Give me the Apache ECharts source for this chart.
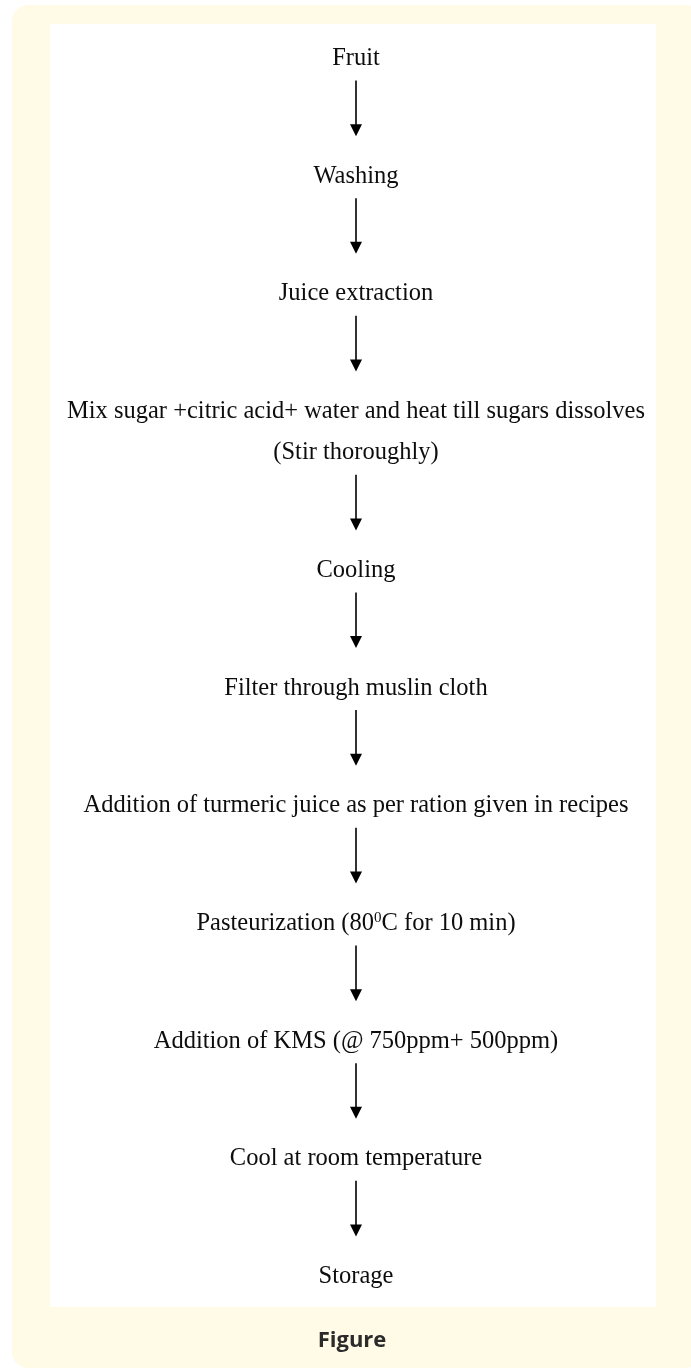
<!DOCTYPE html>
<html>
<head>
<meta charset="utf-8">
<script src="https://cdn.jsdelivr.net/npm/echarts@6/dist/echarts.min.js"></script>
<style>
html,body{margin:0;padding:0;background:#fff;}
#chart{width:691px;height:1370px;}
</style>
</head>
<body>
<div id="chart"></div>
<script>
// Flow steps (top to bottom). "\n" marks a second line within one step.
const steps = [
  'Fruit',
  'Washing',
  'Juice extraction',
  'Mix sugar +citric acid+ water and heat till sugars dissolves\n(Stir thoroughly)',
  'Cooling',
  'Filter through muslin cloth',
  'Addition of turmeric juice as per ration given in recipes',
  'Pasteurization (80{sup|0}C for 10 min)',
  'Addition of KMS (@ 750ppm+ 500ppm)',
  'Cool at room temperature',
  'Storage'
];
const caption = 'Figure';

// layout units: one step = 1 unit, an extra text line inside a step = LINE_UNIT
const LINE_UNIT = 0.35;
const textRows = [];   // [x, y, text]
const stepFirst = [], stepLast = [];
let cursor = 0;
steps.forEach((s, i) => {
  const lines = s.split('\n');
  stepFirst.push(cursor);
  lines.forEach((ln, j) => {
    if (j > 0) cursor += LINE_UNIT;
    textRows.push([0.5, cursor, ln]);
  });
  stepLast.push(cursor);
  cursor += 1;
});
const totalUnits = cursor - 1;
const arrowRows = [];
for (let i = 0; i < steps.length - 1; i++) arrowRows.push([0.5, stepLast[i], stepFirst[i + 1]]);

const chart = echarts.init(document.getElementById('chart'), null, {renderer: 'canvas'});
const FONT = '"Liberation Serif", "Times New Roman", serif';
const INK = '#0d0d0d';

chart.setOption({
  animation: false,
  backgroundColor: '#ffffff',
  graphic: [
    {type: 'rect', z: -10, shape: {x: 12, y: 5, width: 690, height: 1363, r: 16}, style: {fill: '#FFFBE7'}},
    {type: 'rect', z: -9, shape: {x: 50, y: 24, width: 606, height: 1283}, style: {fill: '#FFFFFF'}},
    {type: 'text', z: 5, x: 352, y: 1341, style: {text: caption, fill: '#2b2b2b', fontSize: 22, fontWeight: 'bold', fontFamily: '"Open Sans", "Noto Sans", sans-serif', align: 'center', verticalAlign: 'middle'}}
  ],
  grid: {left: 50, width: 612, top: 58.5, bottom: 93.5},
  xAxis: {type: 'value', min: 0, max: 1, show: false},
  yAxis: {type: 'value', min: 0, max: totalUnits, inverse: true, show: false},
  series: [
    {
      type: 'custom',
      data: textRows,
      renderItem: function (params, api) {
        const p = api.coord([api.value(0), api.value(1)]);
        const t = textRows[params.dataIndex][2];
        return {
          type: 'text',
          x: p[0], y: p[1],
          style: {
            text: t,
            fill: INK,
            fontSize: 24.5,
            fontFamily: FONT,
            align: 'center',
            verticalAlign: 'middle',
            rich: {
              sup: {fontSize: 15, fontFamily: FONT, fill: INK, verticalAlign: 'top', lineHeight: 15, padding: [0, 0, 11, 0]}
            }
          }
        };
      }
    },
    {
      type: 'custom',
      data: arrowRows,
      renderItem: function (params, api) {
        const a = api.coord([api.value(0), api.value(1)]);
        const b = api.coord([api.value(0), api.value(2)]);
        const x = a[0];
        const y0 = a[1] + 22, y1 = b[1] - 40;
        return {
          type: 'group',
          children: [
            {type: 'line', shape: {x1: x, y1: y0, x2: x, y2: y1 - 8}, style: {stroke: '#000', lineWidth: 1.6}},
            {type: 'polygon', shape: {points: [[x - 6, y1 - 12], [x + 6, y1 - 12], [x, y1]]}, style: {fill: '#000'}}
          ]
        };
      }
    }
  ]
});
</script>
</body>
</html>
